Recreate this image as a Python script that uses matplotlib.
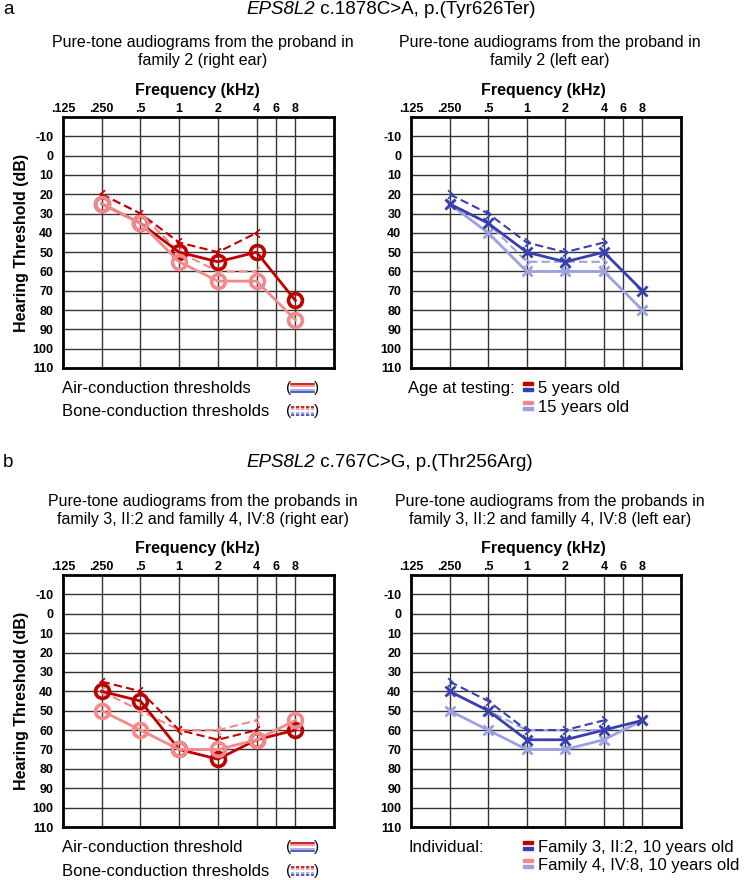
import matplotlib
matplotlib.use('Agg')
import matplotlib.pyplot as plt
from matplotlib.lines import Line2D
from matplotlib.patches import Rectangle
from matplotlib.path import Path
from matplotlib.ticker import NullLocator, NullFormatter

plt.rcParams['font.family'] = ['Liberation Sans', 'DejaVu Sans']

W, H = 750, 880

freqs = [0.25, 0.5, 1, 2, 4, 8]
bone_freqs = [0.25, 0.5, 1, 2, 4]
tick_pos = [0.125, 0.25, 0.5, 1, 2, 4, 5.657, 8]
tick_labels = ['.125', '.250', '.5', '1', '2', '4', '6', '8']
db_ticks = list(range(-10, 111, 10))

# panel a: family 2 proband, 5 and 15 years old
a_right_air_5y = [25, 35, 50, 55, 50, 75]
a_right_air_15y = [25, 35, 55, 65, 65, 85]
a_right_bone_5y = [20, 30, 45, 50, 40]
a_right_bone_15y = [20, 30, 50, 60, 60]
a_left_air_5y = [25, 35, 50, 55, 50, 70]
a_left_air_15y = [25, 40, 60, 60, 60, 80]
a_left_bone_5y = [20, 30, 45, 50, 45]
a_left_bone_15y = [25, 35, 55, 55, 55]

# panel b: family 3 II:2 and family 4 IV:8
b_right_air_fam3 = [40, 45, 70, 75, 65, 60]
b_right_air_fam4 = [50, 60, 70, 70, 65, 55]
b_right_bone_fam3 = [35, 40, 60, 65, 60]
b_right_bone_fam4 = [40, 50, 60, 60, 55]
b_left_air_fam3 = [40, 50, 65, 65, 60, 55]
b_left_air_fam4 = [50, 60, 70, 70, 65, 55]
b_left_bone_fam3 = [35, 45, 60, 60, 55]
b_left_bone_fam4 = [40, 50, 60, 60, 60]

DARK_RED = '#c00000'
LIGHT_RED = '#f4898c'
DARK_BLUE = '#3a3fb0'
LIGHT_BLUE = '#9aa2e2'

chev_left = Path([(0.6, 1), (-0.6, 0), (0.6, -1)], [Path.MOVETO, Path.LINETO, Path.LINETO])
chev_right = Path([(-0.6, 1), (0.6, 0), (-0.6, -1)], [Path.MOVETO, Path.LINETO, Path.LINETO])


def px(x):
    return x / W


def py(y):
    return 1 - y / H


fig = plt.figure(figsize=(W / 100, H / 100), dpi=100)
renderer = fig.canvas.get_renderer()


def audiogram(box, xc_freq):
    x0, y0, x1, y1 = box
    ax = fig.add_axes([px(x0), py(y1), (x1 - x0) / W, (y1 - y0) / H])
    ax.set_xscale('log', base=2)
    ax.set_xlim(0.125, 16)
    ax.set_ylim(110, -20)
    ax.xaxis.tick_top()
    ax.set_xticks(tick_pos)
    ax.set_xticklabels(tick_labels, fontsize=9, fontweight='bold')
    ax.xaxis.set_minor_locator(NullLocator())
    ax.xaxis.set_minor_formatter(NullFormatter())
    ax.set_yticks(db_ticks)
    ax.set_yticklabels([str(v) for v in db_ticks], fontsize=9, fontweight='bold')
    ax.tick_params(axis='x', length=0, pad=1.5)
    ax.tick_params(axis='y', length=0, pad=7)
    ax.grid(True, color='#333333', lw=1)
    for s in ax.spines.values():
        s.set_linewidth(2)
    fig.text(px(xc_freq), py(y0 - 27), 'Frequency (kHz)', fontsize=11.5,
             fontweight='bold', ha='center', va='center')
    if x0 < 200:
        fig.text(px(22), py((y0 + y1) / 2), 'Hearing Threshold (dB)', fontsize=11.5,
                 fontweight='bold', rotation=90, ha='center', va='center')
    return ax


def right_ear(ax, air_dark, air_light, bone_dark, bone_light):
    ax.plot(bone_freqs, bone_light, color=LIGHT_RED, lw=1.5, ls=(0, (4, 2)),
            marker=chev_left, ms=6, mew=1.2, fillstyle='none', zorder=3)
    ax.plot(bone_freqs, bone_dark, color=DARK_RED, lw=1.5, ls=(0, (4, 2)),
            marker=chev_left, ms=6, mew=1.2, fillstyle='none', zorder=3)
    ax.plot(freqs, air_dark, color=DARK_RED, lw=2, marker='o', ms=10, mew=2.6,
            mfc='none', zorder=4)
    ax.plot(freqs, air_light, color=LIGHT_RED, lw=2, marker='o', ms=10, mew=2.6,
            mfc='none', zorder=4)


def left_ear(ax, air_dark, air_light, bone_dark, bone_light):
    ax.plot(bone_freqs, bone_light, color=LIGHT_BLUE, lw=1.5, ls=(0, (4, 2)),
            marker=chev_right, ms=6, mew=1.2, fillstyle='none', zorder=3)
    ax.plot(bone_freqs, bone_dark, color=DARK_BLUE, lw=1.5, ls=(0, (4, 2)),
            marker=chev_right, ms=6, mew=1.2, fillstyle='none', zorder=3)
    ax.plot(freqs, air_light, color=LIGHT_BLUE, lw=2, marker='x', ms=7, mew=2,
            zorder=4)
    ax.plot(freqs, air_dark, color=DARK_BLUE, lw=2, marker='x', ms=7, mew=2,
            zorder=4)


def title(y, rest):
    # gene name in italics, variant upright right after it
    t = fig.text(px(246), py(y), 'EPS8L2', fontsize=13.5, style='italic',
                 ha='left', va='center')
    bb = t.get_window_extent(renderer)
    fig.text(bb.x1 / W, py(y), ' ' + rest, fontsize=13.5, ha='left', va='center')


def icon(x0, x1, yc, dashed):
    fig.text(px(x0), py(yc), '(', fontsize=11, ha='center', va='center')
    fig.text(px(x1), py(yc), ')', fontsize=11, ha='center', va='center')
    ls = (0, (2, 1)) if dashed else '-'
    for dy, c in zip([-4, -2, 2, 4], [DARK_RED, LIGHT_RED, LIGHT_BLUE, DARK_BLUE]):
        fig.add_artist(Line2D([px(x0 + 2), px(x1 - 2)], [py(yc + dy), py(yc + dy)],
                              color=c, lw=1.2, ls=ls, transform=fig.transFigure))


def swatch(x, yc, c1, c2):
    fig.add_artist(Rectangle((px(x), py(yc - 1)), 10 / W, 3 / H, color=c1,
                             transform=fig.transFigure))
    fig.add_artist(Rectangle((px(x), py(yc + 5)), 10 / W, 3 / H, color=c2,
                             transform=fig.transFigure))


# ---------- panel a ----------
fig.text(px(3), py(10), 'a', fontsize=13.5, ha='left', va='center')
title(10, 'c.1878C>A, p.(Tyr626Ter)')
fig.text(px(203), py(52), 'Pure-tone audiograms from the proband in\nfamily 2 (right ear)',
         fontsize=11.5, ha='center', va='center', linespacing=1.25)
fig.text(px(550), py(52), 'Pure-tone audiograms from the proband in\nfamily 2 (left ear)',
         fontsize=11.5, ha='center', va='center', linespacing=1.25)

ax1 = audiogram((63, 117, 334, 368), 197)
right_ear(ax1, a_right_air_5y, a_right_air_15y, a_right_bone_5y, a_right_bone_15y)
ax2 = audiogram((411, 117, 681, 368), 543)
left_ear(ax2, a_left_air_5y, a_left_air_15y, a_left_bone_5y, a_left_bone_15y)

fig.text(px(62), py(388), 'Air-conduction thresholds', fontsize=12, ha='left', va='center')
fig.text(px(62), py(411), 'Bone-conduction thresholds', fontsize=12, ha='left', va='center')
icon(289, 316, 388, False)
icon(289, 316, 411, True)

fig.text(px(408), py(388), 'Age at testing:', fontsize=12, ha='left', va='center')
swatch(523, 386, DARK_RED, DARK_BLUE)
fig.text(px(538), py(388), '5 years old', fontsize=12, ha='left', va='center')
swatch(523, 405, LIGHT_RED, LIGHT_BLUE)
fig.text(px(538), py(407), '15 years old', fontsize=12, ha='left', va='center')

# ---------- panel b ----------
fig.text(px(3), py(462), 'b', fontsize=13.5, ha='left', va='center')
title(462, 'c.767C>G, p.(Thr256Arg)')
fig.text(px(203), py(510), 'Pure-tone audiograms from the probands in\n'
         'family 3, II:2 and familly 4, IV:8 (right ear)',
         fontsize=11.5, ha='center', va='center', linespacing=1.25)
fig.text(px(550), py(510), 'Pure-tone audiograms from the probands in\n'
         'family 3, II:2 and familly 4, IV:8 (left ear)',
         fontsize=11.5, ha='center', va='center', linespacing=1.25)

ax3 = audiogram((63, 575, 334, 827), 197)
right_ear(ax3, b_right_air_fam3, b_right_air_fam4, b_right_bone_fam3, b_right_bone_fam4)
ax4 = audiogram((411, 575, 681, 827), 543)
left_ear(ax4, b_left_air_fam3, b_left_air_fam4, b_left_bone_fam3, b_left_bone_fam4)

fig.text(px(62), py(847), 'Air-conduction threshold', fontsize=12, ha='left', va='center')
fig.text(px(62), py(871), 'Bone-conduction thresholds', fontsize=12, ha='left', va='center')
icon(289, 316, 847, False)
icon(289, 316, 871, True)

fig.text(px(408), py(847), 'Individual:', fontsize=12, ha='left', va='center')
swatch(523, 845, DARK_RED, DARK_BLUE)
fig.text(px(538), py(847), 'Family 3, II:2, 10 years old', fontsize=12, ha='left', va='center')
swatch(523, 863, LIGHT_RED, LIGHT_BLUE)
fig.text(px(538), py(865), 'Family 4, IV:8, 10 years old', fontsize=12, ha='left', va='center')

fig.savefig('out.png', dpi=100)
